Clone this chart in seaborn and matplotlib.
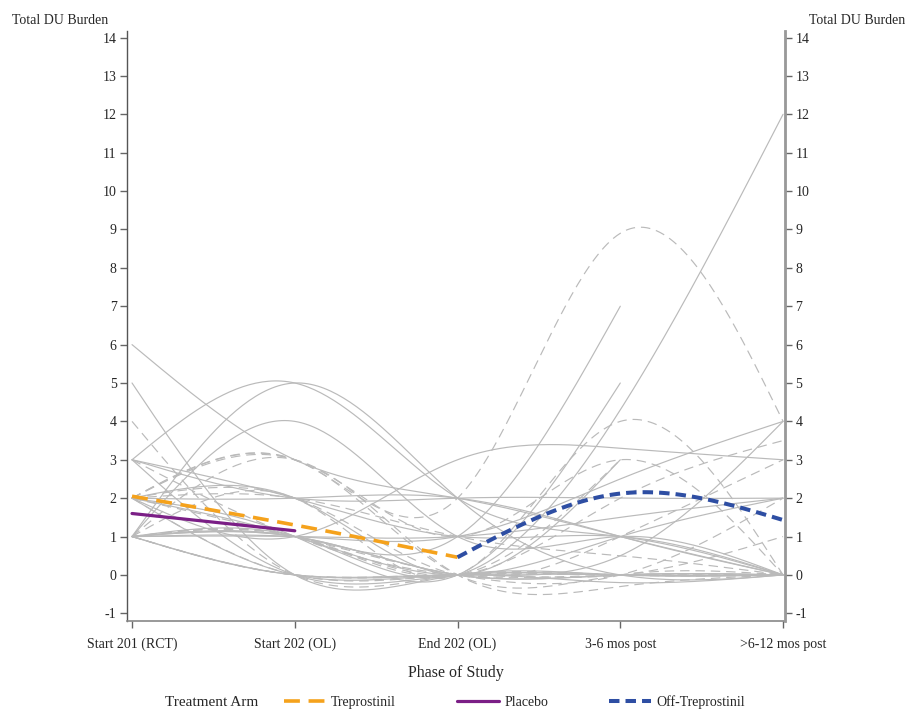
import numpy as np
import pandas as pd
import matplotlib
matplotlib.use("Agg")
import matplotlib.pyplot as plt
from matplotlib.lines import Line2D
import seaborn as sns

# ---------------- data ----------------
phases = ["Start 201 (RCT)", "Start 202 (OL)", "End 202 (OL)", "3-6 mos post", ">6-12 mos post"]
yticks = list(range(-1, 15))
nan = np.nan

# individual patients (solid lines)
solid_patients = [
    [6, 3, 2, 1, 0],
    [5, 0, 0, 0, 0],
    [3, 5, 2, 1, 0],
    [1, 5, 2, 0, 0],
    [1, 4, 1, 1, 0],
    [3, 2, 2, 2, 2],
    [3, 2, 1, 1, 0],
    [3, 0, 0, 0, 0],
    [2, 1, 3, 3.3, 3],
    [1, 1, 1, 7, nan],
    [2, 1, 0, 5, nan],
    [1, 1, 0, 4.3, 12],
    [1, 1, 1, 2.5, 4],
    [1, 0, 0, 0.5, 4],
    [2, 2, 2, 1, 0],
    [1, 1, 0, 0, 0],
    [1, 0, 0, 0, 0],
    [2, 1, 0, 1, 2],
    [1, 1, 1, 1.5, 2],
    [2, 2, 0, 3, nan],
    [1, 1, 0, 0, 0],
    [2, 0, 0, -0.2, 0],
]
# individual patients (dashed lines)
dashed_patients = [
    [4, 0, 0, 0, 0],
    [2, 3, 2, 8.9, 4],
    [1, 2, 0, 4, 0],
    [2, 3, 1, 3, 0],
    [2, 3, 0, 0, 0],
    [1, 0, 0, 0, 1],
    [2, 2, 0, 1, 3],
    [1, 1, 0, 2, 3.5],
    [2, 0, 0, 0, 0],
    [1, 0, 0, 0, 0],
    [2, 1, 0, 0, 2],
    [1, 1, 0, 3, nan],
    [3, 1, 0, 0, 0],
    [2, 2, 1, 0.5, 0],
    [1, 3, 0, -0.3, 0],
]

# group means
trep_x = [0, 1, 2]
trep_y = [2.05, 1.3, 0.46]
plac_x = [0, 1]
plac_y = [1.6, 1.15]
off_x = [2, 3, 4]
off_y = [0.46, 2.12, 1.43]


# -------------- spline helper --------------
def natural_spline(xs, ys, n=50):
    xs = np.asarray(xs, float)
    ys = np.asarray(ys, float)
    ok = ~np.isnan(ys)
    xs, ys = xs[ok], ys[ok]
    k = len(xs)
    if k == 2:
        t = np.linspace(xs[0], xs[1], n)
        return t, np.interp(t, xs, ys)
    h = np.diff(xs)
    A = np.zeros((k, k))
    r = np.zeros(k)
    A[0, 0] = A[-1, -1] = 1
    for i in range(1, k - 1):
        A[i, i - 1] = h[i - 1]
        A[i, i] = 2 * (h[i - 1] + h[i])
        A[i, i + 1] = h[i]
        r[i] = 6 * ((ys[i + 1] - ys[i]) / h[i] - (ys[i] - ys[i - 1]) / h[i - 1])
    M = np.linalg.solve(A, r)
    tt, vv = [], []
    for i in range(k - 1):
        t = np.linspace(xs[i], xs[i + 1], n, endpoint=(i == k - 2))
        hi = h[i]
        s = (M[i] * (xs[i + 1] - t) ** 3 / (6 * hi) + M[i + 1] * (t - xs[i]) ** 3 / (6 * hi)
             + (ys[i] / hi - M[i] * hi / 6) * (xs[i + 1] - t)
             + (ys[i + 1] / hi - M[i + 1] * hi / 6) * (t - xs[i]))
        tt.append(t)
        vv.append(s)
    return np.concatenate(tt), np.concatenate(vv)


rows = []
pid = 0
for arm, group in (("S", solid_patients), ("D", dashed_patients)):
    for vals in group:
        t, v = natural_spline(range(5), vals)
        for a, b in zip(t, v):
            rows.append((pid, arm, a, b))
        pid += 1
df = pd.DataFrame(rows, columns=["pid", "arm", "x", "y"])

# -------------- plot --------------
sns.set_style("ticks")
plt.rcParams["font.family"] = ["Liberation Serif", "DejaVu Serif"]

fig = plt.figure(figsize=(9.07, 7.11), dpi=100)
ax = fig.add_axes([0.140, 0.1266, 0.7255, 0.8298])

grey = "#bababa"
sns.lineplot(data=df, x="x", y="y", units="pid", estimator=None, style="arm",
             style_order=["S", "D"], dashes={"S": "", "D": (8, 5)},
             color=grey, lw=0.85, legend=False, sort=False, ax=ax)

orange = "#f5a21c"
purple = "#7b1f86"
blue = "#2e4ea3"

t, v = natural_spline(trep_x, trep_y)
sns.lineplot(x=t, y=v, color=orange, lw=2.6, sort=False, ax=ax)
ax.lines[-1].set_dashes((4.4, 2.4))
t, v = natural_spline(plac_x, plac_y)
sns.lineplot(x=t, y=v, color=purple, lw=2.3, sort=False, ax=ax)
t, v = natural_spline(off_x, off_y)
sns.lineplot(x=t, y=v, color=blue, lw=2.9, sort=False, ax=ax)
ax.lines[-1].set_dashes((2.6, 1.5))

ax.set_xlim(-0.031, 4.012)
ax.set_ylim(-1.2, 14.17)
ax.set_xticks(range(5))
ax.set_xticklabels(phases, fontsize=10)
ax.set_yticks(yticks)
ax.set_yticklabels([str(v) for v in yticks], fontsize=10)
ax.set_xlabel("Phase of Study", fontsize=11.5, labelpad=10)
ax.set_ylabel("")
ax.tick_params(axis="both", direction="out", length=5, width=1, color="#666666", pad=2.5)
ax.tick_params(axis="x", pad=7)

ax2 = ax.twinx()
ax2.set_ylim(ax.get_ylim())
ax2.set_yticks(yticks)
ax2.set_yticklabels([str(v) for v in yticks], fontsize=10)
ax2.tick_params(axis="y", direction="out", length=5, width=1, color="#666666", pad=2.5)

for a in (ax, ax2):
    a.spines["top"].set_visible(False)
ax.spines["left"].set_color("#555555")
ax.spines["left"].set_linewidth(1.0)
ax.spines["bottom"].set_color("#888888")
ax.spines["bottom"].set_linewidth(1.2)
ax2.spines["right"].set_color("#999999")
ax2.spines["right"].set_linewidth(2.0)
ax2.spines["left"].set_visible(False)
ax2.spines["bottom"].set_visible(False)

fig.text(12 / 907, 1 - 20 / 711, "Total DU Burden", fontsize=10, va="center", ha="left")
fig.text(905 / 907, 1 - 20 / 711, "Total DU Burden", fontsize=10, va="center", ha="right")

# legend
fig.text(165 / 907, 1 - 702 / 711, "Treatment Arm", fontsize=11, va="center", ha="left")
handles = [
    Line2D([], [], color=orange, lw=2.6, dashes=(4.4, 2.4)),
    Line2D([], [], color=purple, lw=2.3),
    Line2D([], [], color=blue, lw=2.9, dashes=(2.6, 1.5)),
]
labels = ["Treprostinil", "Placebo", "Off-Treprostinil"]
fig.legend(handles, labels, loc="center left", bbox_to_anchor=(284 / 907, 1 - 702 / 711),
           ncol=3, frameon=False, fontsize=10, handlelength=3.0, handletextpad=0.4,
           columnspacing=4.4, borderaxespad=0, borderpad=0)

fig.savefig("out.png", dpi=100)
